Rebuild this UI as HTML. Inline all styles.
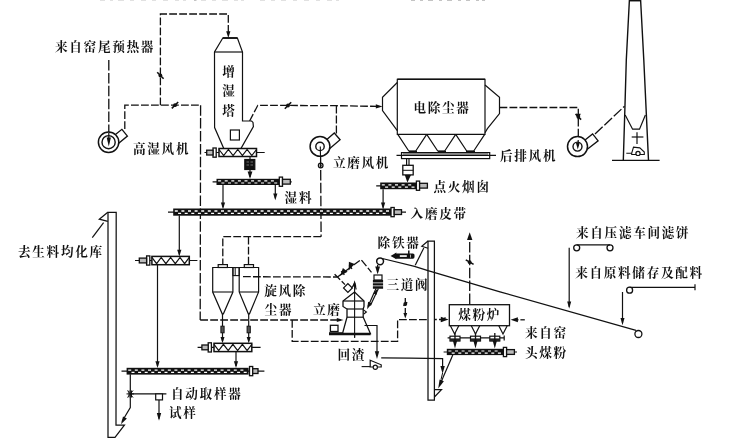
<!DOCTYPE html>
<html lang="zh-CN">
<head>
<meta charset="utf-8">
<title>立磨系统工艺流程图</title>
<style>
html,body{margin:0;padding:0;background:#fff;}
body{width:730px;height:445px;overflow:hidden;}
svg{display:block;will-change:transform;}
.d{stroke-dasharray:7.8 2.2;stroke-width:1.3px;}
.l{stroke-dasharray:10.5 2.4;}
svg text{font-family:"Liberation Serif","Noto Serif CJK SC",serif;font-weight:700;letter-spacing:1.7px;fill:#111;stroke:none;}
</style>
</head>
<body>
<svg width="730" height="445" viewBox="0 0 730 445">
<rect width="730" height="445" fill="#fff" stroke="none"/>
<g stroke="#111" fill="none">
<path d="M100,0h5M110,0h3M118,0h6M130,0h4M141,0h5M152,0h4M163,0h5M175,0h4M183,0h3M201,0h5M212,0h4M222,0h6M234,0h4M241,0h3M260,0h5M271,0h4M281,0h5M293,0h4M304,0h5M316,0h4M327,0h5M336,0h3" stroke-width="1" stroke="#c4c4c4"/>
<path d="M194,0h2.5M411,0h4M420,0h3M428,0h5M439,0h3M447,0h5M458,0h3M466,0h4M476,0h3M482,0h3" stroke-width="1.2" stroke="#8a8a8a"/>
<line x1="108.8" y1="60" x2="108.8" y2="137" stroke-width="1.2" class="d l"/>
<polyline points="124.8,129 124.8,105.2 200.6,105.2" fill="none" stroke-width="1.2" class="d"/>
<line x1="200.6" y1="105.2" x2="200.2" y2="320" stroke-width="1.2" class="d l"/>
<line x1="200.2" y1="320" x2="341" y2="320" stroke-width="1.2" class="d"/>
<polygon points="343.5,320.0 336.8,322.1 336.8,317.9" fill="#111" stroke="none"/>
<polyline points="160.4,105.2 160.4,14 228.3,14 228.3,33" fill="none" stroke-width="1.2" class="d"/>
<polygon points="228.3,38.0 226.2,31.3 230.4,31.3" fill="#111" stroke="none"/>
<line x1="163.6" y1="78.7" x2="157.2" y2="72.3" stroke-width="1.6"/>
<circle cx="160.4" cy="75.5" r="1.9" fill="#111" stroke-width="0"/>
<line x1="171.8" y1="108.4" x2="178.2" y2="102.0" stroke-width="1.6"/>
<circle cx="175" cy="105.2" r="1.9" fill="#111" stroke-width="0"/>
<polyline points="249.6,121 257.8,105.3 336,105.7 378,106.4" fill="none" stroke-width="1.2" class="d"/>
<polygon points="382.5,106.4 375.8,108.5 375.8,104.3" fill="#111" stroke="none"/>
<line x1="284.8" y1="108.7" x2="291.2" y2="102.3" stroke-width="1.6"/>
<circle cx="288" cy="105.5" r="1.9" fill="#111" stroke-width="0"/>
<line x1="336.4" y1="105.6" x2="336.4" y2="133.5" stroke-width="1.2" class="d"/>
<line x1="320.6" y1="157" x2="321.1" y2="236.7" stroke-width="1.2" class="d l"/>
<polyline points="321.1,236.7 222.8,236.7 222.8,265" fill="none" stroke-width="1.2" class="d"/>
<line x1="248.5" y1="236.7" x2="248.5" y2="265" stroke-width="1.2" class="d"/>
<polyline points="499.5,107.5 578.3,107.5 578.3,140" fill="none" stroke-width="1.2" class="d"/>
<line x1="581.1" y1="119.6" x2="575.5" y2="114.0" stroke-width="1.6"/>
<circle cx="578.3" cy="116.8" r="1.9" fill="#111" stroke-width="0"/>
<polygon points="578.3,120.5 575.9,113.8 580.7,113.8" fill="#111" stroke="none"/>
<line x1="595" y1="134" x2="624.5" y2="106.2" stroke-width="1.2" class="d l"/>
<polyline points="337.5,277 361,259.6 371.5,272.3" fill="none" stroke-width="1.2" class="d"/>
<polyline points="334.6,274.2 337.5,277 345,284.6" fill="none" stroke-width="1.2" class="d"/>
<polygon points="340.2,275.8 342.9,267.9 347.6,271.7" fill="#111" stroke="none"/>
<polygon points="348.6,270.6 348.9,261.7 354.6,263.9" fill="#111" stroke="none"/>
<line x1="341.2" y1="271.2" x2="344.4" y2="274.8" stroke-width="1.3"/>
<line x1="349.2" y1="265" x2="352" y2="269" stroke-width="1.3"/>
<polyline points="292.2,320 292.2,341.4 397.6,341.4 397.6,319.6 442,319.5" fill="none" stroke-width="1.2" class="d"/>
<polygon points="448.6,319.5 440.8,322.2 440.8,316.8" fill="#111" stroke="none"/>
<line x1="441" y1="321.5" x2="445.5" y2="317.5" stroke-width="1.4"/>
<line x1="405.3" y1="298" x2="405.3" y2="314" stroke-width="1.2" class="d"/>
<polygon points="405.3,318.5 403.4,312.9 407.2,312.9" fill="#111" stroke="none"/>
<line x1="403.5" y1="305.8" x2="407.1" y2="302.2" stroke-width="1.6"/>
<circle cx="405.3" cy="304" r="1.9" fill="#111" stroke-width="0"/>
<line x1="469.7" y1="304" x2="469.7" y2="238" stroke-width="1.2" class="d l"/>
<polygon points="469.7,232.3 472.4,240.1 467.0,240.1" fill="#111" stroke="none"/>
<line x1="473.6" y1="264.4" x2="465.8" y2="259.9" stroke-width="1.6"/>
<circle cx="469.7" cy="262.2" r="1.9" fill="#111" stroke-width="0"/>
<line x1="518.5" y1="319.8" x2="516" y2="319.8" stroke-width="1.3"/>
<line x1="524.8" y1="319.8" x2="520.4" y2="319.8" stroke-width="1.3"/>
<polygon points="510.6,319.8 517.9,317.3 517.9,322.3" fill="#111" stroke="none"/>
<polygon points="222.8,38 237.4,38 242.5,52 242.5,121 251.6,121 253,122.4 253.4,126.6 240.9,148.6 223.8,148.6 214.6,127.6 214.5,52" fill="#fff" stroke-width="1.2"/>
<line x1="222.8" y1="38" x2="237.4" y2="38" stroke-width="1.8"/>
<line x1="214.5" y1="52" x2="242.5" y2="52" stroke-width="1.2"/>
<rect x="230.4" y="130" width="9" height="10" fill="none" stroke-width="1.2"/>
<line x1="204.5" y1="152.5" x2="264.7" y2="152.5" stroke-width="1.2"/>
<rect x="219" y="148.5" width="37.5" height="8.0" fill="#fff" stroke-width="1.5"/>
<polyline points="219.0,149.5 223.7,155.5 228.4,149.5 233.1,155.5 237.8,149.5 242.4,155.5 247.1,149.5 251.8,155.5 256.5,149.5" fill="none" stroke-width="1.2"/>
<rect x="213.0" y="148.0" width="3.2" height="9.2" fill="#fff" stroke-width="1.3"/>
<rect x="206.7" y="150.2" width="6.3" height="4.8" fill="#bbb" stroke-width="1.3"/>
<rect x="244.8" y="159.5" width="10" height="10" fill="#111" stroke-width="1.2"/>
<path d="M246.5,162h2.5M250.5,162h2.5M246.5,165h2.5M250.5,165h2.5" stroke="#888" stroke-width="0.8"/>
<line x1="250" y1="156.5" x2="250" y2="159.5" stroke-width="1.2"/>
<line x1="250" y1="169.5" x2="250" y2="177" stroke-width="1.2"/>
<polygon points="250.0,179.0 247.6,171.6 252.4,171.6" fill="#111" stroke="none"/>
<line x1="212.6" y1="181.9" x2="291.7" y2="181.9" stroke-width="1.2"/>
<rect x="216.5" y="178.8" width="62.6" height="6.2" fill="#111" stroke="none"/>
<path d="M218.1,180.35h3v1.18h-3zM221.4,182.40h3v1.18h-3zM224.7,180.35h3v1.18h-3zM228.0,182.40h3v1.18h-3zM231.3,180.35h3v1.18h-3zM234.6,182.40h3v1.18h-3zM237.9,180.35h3v1.18h-3zM241.2,182.40h3v1.18h-3zM244.5,180.35h3v1.18h-3zM247.8,182.40h3v1.18h-3zM251.1,180.35h3v1.18h-3zM254.4,182.40h3v1.18h-3zM257.7,180.35h3v1.18h-3zM261.0,182.40h3v1.18h-3zM264.3,180.35h3v1.18h-3zM267.6,182.40h3v1.18h-3zM270.9,180.35h3v1.18h-3zM274.2,182.40h3v1.18h-3z" fill="#fff" stroke="none"/>
<rect x="279.3" y="177.1" width="3.2" height="9.2" fill="#fff" stroke-width="1.3"/>
<rect x="282.5" y="179.3" width="7.8" height="4.8" fill="#bbb" stroke-width="1.3"/>
<line x1="223" y1="185" x2="223" y2="207.2" stroke-width="1.2"/>
<polygon points="223.0,209.2 220.9,202.5 225.1,202.5" fill="#111" stroke="none"/>
<line x1="275.3" y1="185" x2="275.3" y2="198.3" stroke-width="1.2"/>
<polygon points="275.3,200.3 273.2,193.6 277.4,193.6" fill="#111" stroke="none"/>
<line x1="168" y1="212.1" x2="406" y2="212.1" stroke-width="1.2"/>
<rect x="173.2" y="208.5" width="217.8" height="7.2" fill="#111" stroke="none"/>
<path d="M174.8,210.30h3v1.37h-3zM178.1,212.68h3v1.37h-3zM181.4,210.30h3v1.37h-3zM184.7,212.68h3v1.37h-3zM188.0,210.30h3v1.37h-3zM191.3,212.68h3v1.37h-3zM194.6,210.30h3v1.37h-3zM197.9,212.68h3v1.37h-3zM201.2,210.30h3v1.37h-3zM204.5,212.68h3v1.37h-3zM207.8,210.30h3v1.37h-3zM211.1,212.68h3v1.37h-3zM214.4,210.30h3v1.37h-3zM217.7,212.68h3v1.37h-3zM221.0,210.30h3v1.37h-3zM224.3,212.68h3v1.37h-3zM227.6,210.30h3v1.37h-3zM230.9,212.68h3v1.37h-3zM234.2,210.30h3v1.37h-3zM237.5,212.68h3v1.37h-3zM240.8,210.30h3v1.37h-3zM244.1,212.68h3v1.37h-3zM247.4,210.30h3v1.37h-3zM250.7,212.68h3v1.37h-3zM254.0,210.30h3v1.37h-3zM257.3,212.68h3v1.37h-3zM260.6,210.30h3v1.37h-3zM263.9,212.68h3v1.37h-3zM267.2,210.30h3v1.37h-3zM270.5,212.68h3v1.37h-3zM273.8,210.30h3v1.37h-3zM277.1,212.68h3v1.37h-3zM280.4,210.30h3v1.37h-3zM283.7,212.68h3v1.37h-3zM287.0,210.30h3v1.37h-3zM290.3,212.68h3v1.37h-3zM293.6,210.30h3v1.37h-3zM296.9,212.68h3v1.37h-3zM300.2,210.30h3v1.37h-3zM303.5,212.68h3v1.37h-3zM306.8,210.30h3v1.37h-3zM310.1,212.68h3v1.37h-3zM313.4,210.30h3v1.37h-3zM316.7,212.68h3v1.37h-3zM320.0,210.30h3v1.37h-3zM323.3,212.68h3v1.37h-3zM326.6,210.30h3v1.37h-3zM329.9,212.68h3v1.37h-3zM333.2,210.30h3v1.37h-3zM336.5,212.68h3v1.37h-3zM339.8,210.30h3v1.37h-3zM343.1,212.68h3v1.37h-3zM346.4,210.30h3v1.37h-3zM349.7,212.68h3v1.37h-3zM353.0,210.30h3v1.37h-3zM356.3,212.68h3v1.37h-3zM359.6,210.30h3v1.37h-3zM362.9,212.68h3v1.37h-3zM366.2,210.30h3v1.37h-3zM369.5,212.68h3v1.37h-3zM372.8,210.30h3v1.37h-3zM376.1,212.68h3v1.37h-3zM379.4,210.30h3v1.37h-3zM382.7,212.68h3v1.37h-3zM386.0,210.30h3v1.37h-3z" fill="#fff" stroke="none"/>
<rect x="391" y="207.5" width="3.2" height="9.2" fill="#fff" stroke-width="1.3"/>
<rect x="394.2" y="209.7" width="7.3" height="4.8" fill="#bbb" stroke-width="1.3"/>
<polyline points="112.3,137.0 121.9,129.3 127.4,136.1 117.8,143.9" fill="#fff" stroke-width="1.3"/>
<circle cx="108.6" cy="142.2" r="10.2" fill="#fff" stroke-width="1.5"/>
<circle cx="108.6" cy="142.2" r="6.6" fill="none" stroke-width="1.4"/>
<line x1="108.8" y1="133" x2="108.8" y2="140" stroke-width="1.2"/>
<polygon points="108.8,146.5 106.7,137.5 110.9,137.5" fill="#111" stroke="none"/>
<polyline points="324.0,142.0 334.3,133.0 340.1,139.7 329.8,148.6" fill="#fff" stroke-width="1.3"/>
<circle cx="320" cy="146.4" r="9.9" fill="#fff" stroke-width="1.5"/>
<circle cx="320" cy="146.4" r="4.2" fill="none" stroke-width="1.4"/>
<line x1="320.3" y1="146.4" x2="320.5" y2="156" stroke-width="1.1"/>
<circle cx="320.7" cy="165.5" r="2.3" fill="none" stroke-width="1.3"/>
<circle cx="320.7" cy="165.5" r="1" fill="#111" stroke-width="0"/>
<polyline points="581.9,142.4 592.6,133.9 598.1,140.8 587.3,149.3" fill="#fff" stroke-width="1.3"/>
<circle cx="577.5" cy="146.6" r="10" fill="#fff" stroke-width="1.5"/>
<circle cx="577.5" cy="146.6" r="4.5" fill="none" stroke-width="1.4"/>
<line x1="578.2" y1="140" x2="578.2" y2="146" stroke-width="1.2"/>
<polygon points="577.8,149.5 575.9,142.8 579.7,142.8" fill="#111" stroke="none"/>
<polygon points="397.3,79.3 485,79.3 485,134.4 397.3,134.4" fill="#fff" stroke-width="1.2"/>
<line x1="397.3" y1="79.3" x2="485" y2="79.3" stroke-width="1.6"/>
<polyline points="397.3,82.5 382.5,97.3 382.5,110.5 397.3,130.7" fill="none" stroke-width="1.2"/>
<polyline points="485,85 499.5,97.3 499.5,113.5 487.4,128.7 485,132.7" fill="none" stroke-width="1.2"/>
<polyline points="397.8,134.4 408.75,151 415.75,151 426.7,134.4" fill="none" stroke-width="1.2"/>
<polyline points="426.7,134.4 437.7,151 444.7,151 455.7,134.4" fill="none" stroke-width="1.2"/>
<polyline points="455.7,134.4 466.7,151 473.7,151 484.7,134.4" fill="none" stroke-width="1.2"/>
<line x1="396.5" y1="155.4" x2="496" y2="155.4" stroke-width="1.2"/>
<rect x="401.5" y="152.6" width="88.2" height="6" fill="none" stroke-width="1.2"/>
<line x1="403" y1="154" x2="488" y2="154" stroke-width="0.8"/>
<path d="M409,151.6h8M438,151.6h8M466,151.6h9" stroke-width="1.6"/>
<line x1="409" y1="158.6" x2="409" y2="165.3" stroke-width="1.2"/>
<line x1="406.6" y1="158.6" x2="406.6" y2="165.3" stroke-width="1.2"/>
<rect x="402.8" y="165.3" width="10.4" height="9.6" fill="#fff" stroke-width="1.3"/>
<line x1="402.8" y1="170.3" x2="413.2" y2="170.3" stroke-width="1"/>
<polygon points="404.8,175 411,175 407.4,182.6" fill="#111" stroke="none"/>
<line x1="376.2" y1="185.8" x2="416" y2="185.8" stroke-width="1.2"/>
<rect x="380.2" y="182.5" width="36.2" height="6.7" fill="#111" stroke="none"/>
<path d="M381.8,184.18h3v1.27h-3zM385.1,186.39h3v1.27h-3zM388.4,184.18h3v1.27h-3zM391.7,186.39h3v1.27h-3zM395.0,184.18h3v1.27h-3zM398.3,186.39h3v1.27h-3zM401.6,184.18h3v1.27h-3zM404.9,186.39h3v1.27h-3zM408.2,184.18h3v1.27h-3zM411.5,186.39h3v1.27h-3z" fill="#fff" stroke="none"/>
<rect x="416.4" y="181.1" width="3.2" height="9.2" fill="#fff" stroke-width="1.3"/>
<rect x="419.6" y="183.3" width="7.8" height="4.8" fill="#bbb" stroke-width="1.3"/>
<line x1="383.1" y1="189.2" x2="383.1" y2="207.4" stroke-width="1.2"/>
<polygon points="383.1,209.4 381.0,202.5 385.2,202.5" fill="#111" stroke="none"/>
<polyline points="629.4,0 626.3,60 625,105 623.3,160.4" fill="none" stroke-width="1.4"/>
<polyline points="640.6,0 643.8,60 648.5,160.4" fill="none" stroke-width="1.4"/>
<line x1="629.4" y1="0.7" x2="640.6" y2="0.7" stroke-width="1.5"/>
<line x1="612" y1="160.4" x2="659.6" y2="160.4" stroke-width="1.4"/>
<polyline points="625.2,115 632.6,129.2 639.5,129.2 645.4,115" fill="none" stroke-width="1.2"/>
<line x1="637" y1="132.2" x2="637" y2="143.9" stroke-width="1.2"/>
<line x1="631.7" y1="137" x2="643.4" y2="137" stroke-width="1.2"/>
<polyline points="626.3,153.2 631.7,153.2 633.5,147.2 639.8,147.9 644.3,152 644.3,154.5 631.7,154.5 631.7,153.2" fill="none" stroke-width="1.1"/>
<circle cx="638" cy="153.4" r="2.1" fill="#fff" stroke-width="1.2"/>
<polygon points="108,212.3 116.2,212.3 116,425.2 124.4,425.2 115,437.3 108,437.3" fill="#fff" stroke-width="1.25"/>
<polyline points="107.8,212.3 99.3,219.2 107.8,221.4" fill="none" stroke-width="1.2"/>
<line x1="103.6" y1="222.7" x2="92.3" y2="237.6" stroke-width="1.2"/>
<line x1="135" y1="260.5" x2="197.4" y2="260.5" stroke-width="1.2"/>
<rect x="151.9" y="256.4" width="37.4" height="8.3" fill="#fff" stroke-width="1.5"/>
<polyline points="151.9,257.4 156.6,263.7 161.2,257.4 165.9,263.7 170.6,257.4 175.3,263.7 180.0,257.4 184.6,263.7 189.3,257.4" fill="none" stroke-width="1.2"/>
<rect x="146.6" y="255.9" width="3.2" height="9.2" fill="#fff" stroke-width="1.3"/>
<rect x="139.3" y="258.1" width="7.3" height="4.8" fill="#bbb" stroke-width="1.3"/>
<line x1="179.3" y1="215.3" x2="179.3" y2="254.39999999999998" stroke-width="1.2"/>
<polygon points="179.3,256.4 177.2,249.7 181.4,249.7" fill="#111" stroke="none"/>
<line x1="157.5" y1="264.7" x2="157.5" y2="366" stroke-width="1.2"/>
<polygon points="157.5,368.0 155.4,361.3 159.6,361.3" fill="#111" stroke="none"/>
<polygon points="212.7,267.5 232.9,267.5 232.9,292 223.4,313.8 222.20000000000002,313.8 212.7,292" fill="#fff" stroke-width="1.2"/>
<line x1="212.7" y1="292" x2="232.9" y2="292" stroke-width="1.1"/>
<rect x="218.2" y="264.6" width="9.2" height="2.9" fill="#fff" stroke-width="1.2"/>
<polygon points="239.2,267.5 258.6,267.5 258.6,292 249.5,313.8 248.3,313.8 239.2,292" fill="#fff" stroke-width="1.2"/>
<line x1="239.2" y1="292" x2="258.6" y2="292" stroke-width="1.1"/>
<rect x="244.3" y="264.6" width="9.2" height="2.9" fill="#fff" stroke-width="1.2"/>
<rect x="232.9" y="267.6" width="6.3" height="8" fill="none" stroke-width="1.1"/>
<line x1="235.2" y1="267.6" x2="235.2" y2="275.6" stroke-width="1"/>
<line x1="222.5" y1="313.8" x2="222.5" y2="326" stroke-width="1.2"/>
<rect x="220.9" y="326.2" width="3.2" height="6.6" fill="#555" stroke-width="1"/>
<line x1="222.5" y1="332.8" x2="222.5" y2="341.3" stroke-width="1.2"/>
<polygon points="222.5,343.3 220.5,337.1 224.5,337.1" fill="#111" stroke="none"/>
<line x1="248.7" y1="313.8" x2="248.7" y2="326" stroke-width="1.2"/>
<rect x="247.1" y="326.2" width="3.2" height="6.6" fill="#555" stroke-width="1"/>
<line x1="248.7" y1="332.8" x2="248.7" y2="341.3" stroke-width="1.2"/>
<polygon points="248.7,343.3 246.7,337.1 250.7,337.1" fill="#111" stroke="none"/>
<polyline points="243,276.7 337.5,277" fill="none" stroke-width="1.2" class="d"/>
<line x1="197.6" y1="347.4" x2="260.6" y2="347.4" stroke-width="1.2"/>
<rect x="214" y="343.3" width="37.8" height="8.3" fill="#fff" stroke-width="1.5"/>
<polyline points="214.0,344.3 218.7,350.6 223.4,344.3 228.2,350.6 232.9,344.3 237.6,350.6 242.4,344.3 247.1,350.6 251.8,344.3" fill="none" stroke-width="1.2"/>
<rect x="208.2" y="342.8" width="3.2" height="9.2" fill="#fff" stroke-width="1.3"/>
<rect x="201.9" y="345.0" width="6.3" height="4.8" fill="#bbb" stroke-width="1.3"/>
<line x1="236" y1="351.6" x2="236" y2="366" stroke-width="1.2"/>
<polygon points="236.0,368.0 233.9,361.3 238.1,361.3" fill="#111" stroke="none"/>
<line x1="121.5" y1="371.1" x2="264.4" y2="371.1" stroke-width="1.2"/>
<rect x="126.6" y="367.8" width="122.0" height="6.8" fill="#111" stroke="none"/>
<path d="M128.2,369.50h3v1.29h-3zM131.5,371.74h3v1.29h-3zM134.8,369.50h3v1.29h-3zM138.1,371.74h3v1.29h-3zM141.4,369.50h3v1.29h-3zM144.7,371.74h3v1.29h-3zM148.0,369.50h3v1.29h-3zM151.3,371.74h3v1.29h-3zM154.6,369.50h3v1.29h-3zM157.9,371.74h3v1.29h-3zM161.2,369.50h3v1.29h-3zM164.5,371.74h3v1.29h-3zM167.8,369.50h3v1.29h-3zM171.1,371.74h3v1.29h-3zM174.4,369.50h3v1.29h-3zM177.7,371.74h3v1.29h-3zM181.0,369.50h3v1.29h-3zM184.3,371.74h3v1.29h-3zM187.6,369.50h3v1.29h-3zM190.9,371.74h3v1.29h-3zM194.2,369.50h3v1.29h-3zM197.5,371.74h3v1.29h-3zM200.8,369.50h3v1.29h-3zM204.1,371.74h3v1.29h-3zM207.4,369.50h3v1.29h-3zM210.7,371.74h3v1.29h-3zM214.0,369.50h3v1.29h-3zM217.3,371.74h3v1.29h-3zM220.6,369.50h3v1.29h-3zM223.9,371.74h3v1.29h-3zM227.2,369.50h3v1.29h-3zM230.5,371.74h3v1.29h-3zM233.8,369.50h3v1.29h-3zM237.1,371.74h3v1.29h-3zM240.4,369.50h3v1.29h-3zM243.7,371.74h3v1.29h-3z" fill="#fff" stroke="none"/>
<rect x="249.5" y="366.5" width="3.2" height="9.2" fill="#fff" stroke-width="1.3"/>
<rect x="252.7" y="368.7" width="5.3" height="4.8" fill="#bbb" stroke-width="1.3"/>
<polyline points="130.3,374.3 130.3,407.6 122,421.5" fill="none" stroke-width="1.2"/>
<polygon points="121.0,424.3 123.0,416.4 126.9,418.6" fill="#111" stroke="none"/>
<path d="M126.5,393.9h7.5M127.5,390.5l5.5,7M133,390.5l-5.5,7M129,390.5v7M131.5,390.5v7" stroke-width="1"/>
<line x1="130.3" y1="393.9" x2="166.4" y2="393.9" stroke-width="1.2"/>
<rect x="155.7" y="393.9" width="6.8" height="6" fill="#fff" stroke-width="1.2"/>
<line x1="159" y1="400" x2="159" y2="418.8" stroke-width="1.2"/>
<polygon points="159.0,420.8 156.8,413.0 161.2,413.0" fill="#111" stroke="none"/>
<line x1="354.6" y1="283" x2="354.6" y2="337.8" stroke-width="1.1"/>
<polygon points="354.6,292 343,301 343,306.5 347,309 347,317.2 342.5,333.5 370.4,333.5 363.2,317.2 363.2,309 364,306.5 364,301" fill="#fff" stroke-width="1.3"/>
<line x1="354.6" y1="292" x2="354.6" y2="337.8" stroke-width="1.1"/>
<line x1="343" y1="301" x2="364" y2="301" stroke-width="1.2"/>
<line x1="347" y1="309" x2="363.2" y2="309" stroke-width="1.2"/>
<line x1="347" y1="317.2" x2="363.2" y2="317.2" stroke-width="1.2"/>
<polyline points="363.2,309.6 366.4,312 363.8,314" fill="none" stroke-width="1.1"/>
<line x1="329" y1="334.2" x2="370.6" y2="334.2" stroke-width="2.2"/>
<rect x="330.4" y="325.3" width="7.6" height="6.2" fill="#fff" stroke-width="1.3"/>
<line x1="329" y1="333" x2="342.5" y2="333" stroke-width="1.6"/>
<rect x="-3.1" y="-3.1" width="6.2" height="6.2" fill="#fff" stroke-width="1.2" transform="translate(347.9,288) rotate(45)"/>
<polyline points="351.6,288.2 354.6,283 356.2,289.5" fill="none" stroke-width="1.1"/>
<polygon points="354.6,280.3 356.4,286.5 352.8,286.5" fill="#111" stroke="none"/>
<line x1="376" y1="288.5" x2="368" y2="306.5" stroke-width="1.2"/>
<line x1="378.4" y1="288.5" x2="370.4" y2="305.5" stroke-width="1.2"/>
<polygon points="367.1,309.2 368.1,301.7 372.0,303.4" fill="#111" stroke="none"/>
<polygon points="377.2,289.0 376.6,294.8 373.3,293.4" fill="#111" stroke="none"/>
<polyline points="364.5,325.5 377,325.5 377,353" fill="none" stroke-width="1.2"/>
<polygon points="377.0,359.0 374.8,351.2 379.2,351.2" fill="#111" stroke="none"/>
<polygon points="370.2,360.2 381.2,364.8 381.2,367 370.2,367" fill="none" stroke-width="1.2"/>
<line x1="361.6" y1="366.6" x2="370.2" y2="366.6" stroke-width="1.1"/>
<circle cx="375.3" cy="367.2" r="2.1" fill="#fff" stroke-width="1.2"/>
<circle cx="380.1" cy="261.3" r="3.4" fill="#fff" stroke-width="1.5"/>
<circle cx="638.4" cy="334" r="3.5" fill="#fff" stroke-width="1.3"/>
<line x1="377.6" y1="265" x2="377.6" y2="272.2" stroke-width="1.2"/>
<polygon points="377.6,274.2 375.2,266.4 380.0,266.4" fill="#111" stroke="none"/>
<rect x="374" y="275" width="8" height="5" fill="#fff" stroke-width="1.2"/>
<path d="M372.9,281.2h10.2M372.9,284.4h10.2M372.9,287.5h10.2" stroke-width="2.4"/>
<polygon points="390.6,255.9 396.4,252.5 396.4,259.3" fill="#111" stroke="none"/>
<rect x="395" y="253.5" width="19.5" height="5.2" rx="1.6" fill="#111" stroke="none"/>
<rect x="399.8" y="255.2" width="7" height="1.7" fill="#fff" stroke="none"/>
<path d="M410.5,254.6v3M408.6,250.8v3" stroke="#ddd" stroke-width="0.8"/>
<line x1="408.8" y1="250.6" x2="408.8" y2="254" stroke-width="1.5"/>
<polygon points="428,241 434.4,241 434.4,400 428,400" fill="#fff" stroke-width="1.25"/>
<polyline points="428,241 421.8,246.3 428,248.2" fill="none" stroke-width="1.2"/>
<line x1="423.8" y1="248" x2="415.2" y2="265.2" stroke-width="1.2"/>
<polyline points="434.4,397 441.5,389.6 434.4,389.6" fill="none" stroke-width="1.2"/>
<polyline points="381.2,357.8 410,358.2 442.6,358.6 442.6,368" fill="none" stroke-width="1.2"/>
<polygon points="442.6,373.8 440.4,366.0 444.8,366.0" fill="#111" stroke="none"/>
<polyline points="442.6,373 441,379.5" fill="none" stroke-width="1"/>
<polyline points="382.3,258.5 414.5,266.3 428,270.7 500,291.8 636,330.3" fill="none" stroke-width="1.25"/>
<rect x="449.3" y="304.7" width="60.2" height="21" fill="#fff" stroke-width="1.3"/>
<polyline points="450.40000000000003,325.7 454.6,334 458.8,325.7" fill="none" stroke-width="1.2"/>
<polyline points="471.3,325.7 475.5,334 479.7,325.7" fill="none" stroke-width="1.2"/>
<polyline points="498.8,325.7 503,334 507.2,325.7" fill="none" stroke-width="1.2"/>
<line x1="447.6" y1="337.9" x2="504.2" y2="337.9" stroke-width="1.3"/>
<line x1="504.2" y1="335.4" x2="504.2" y2="340.6" stroke-width="1.2"/>
<rect x="450" y="336.2" width="10" height="4.8" fill="#fff" stroke-width="1.2"/>
<rect x="450" y="338.4" width="10" height="2.8" fill="#222" stroke="none"/>
<line x1="455" y1="333" x2="455" y2="343" stroke-width="1.3"/>
<polygon points="455.0,348.6 452.9,340.8 457.1,340.8" fill="#111" stroke="none"/>
<rect x="470.5" y="336.2" width="10" height="4.8" fill="#fff" stroke-width="1.2"/>
<rect x="470.5" y="338.4" width="10" height="2.8" fill="#222" stroke="none"/>
<line x1="475.5" y1="333" x2="475.5" y2="343" stroke-width="1.3"/>
<polygon points="475.5,348.6 473.4,340.8 477.6,340.8" fill="#111" stroke="none"/>
<rect x="489.8" y="336.2" width="10" height="4.8" fill="#fff" stroke-width="1.2"/>
<rect x="489.8" y="338.4" width="10" height="2.8" fill="#222" stroke="none"/>
<line x1="494.8" y1="333" x2="494.8" y2="343" stroke-width="1.3"/>
<polygon points="494.8,348.6 492.7,340.8 496.9,340.8" fill="#111" stroke="none"/>
<line x1="443.6" y1="352" x2="517" y2="352" stroke-width="1.2"/>
<rect x="446.8" y="348.8" width="56.6" height="6.3" fill="#111" stroke="none"/>
<path d="M448.4,350.38h3v1.20h-3zM451.7,352.45h3v1.20h-3zM455.0,350.38h3v1.20h-3zM458.3,352.45h3v1.20h-3zM461.6,350.38h3v1.20h-3zM464.9,352.45h3v1.20h-3zM468.2,350.38h3v1.20h-3zM471.5,352.45h3v1.20h-3zM474.8,350.38h3v1.20h-3zM478.1,352.45h3v1.20h-3zM481.4,350.38h3v1.20h-3zM484.7,352.45h3v1.20h-3zM488.0,350.38h3v1.20h-3zM491.3,352.45h3v1.20h-3zM494.6,350.38h3v1.20h-3zM497.9,352.45h3v1.20h-3z" fill="#fff" stroke="none"/>
<rect x="503.4" y="347.4" width="3.2" height="9.2" fill="#fff" stroke-width="1.3"/>
<rect x="506.6" y="349.6" width="7.8" height="4.8" fill="#bbb" stroke-width="1.3"/>
<line x1="452.8" y1="355.1" x2="440" y2="384.5" stroke-width="1.2"/>
<polygon points="438.2,388.6 439.6,379.4 443.9,381.3" fill="#111" stroke="none"/>
<circle cx="576.7" cy="247.8" r="3" fill="none" stroke-width="1.3"/>
<circle cx="610" cy="247.8" r="3" fill="none" stroke-width="1.3"/>
<line x1="576.7" y1="244.8" x2="610" y2="244.8" stroke-width="1.3"/>
<line x1="569.2" y1="247.8" x2="569.2" y2="306.8" stroke-width="1.2"/>
<polygon points="569.2,308.8 567.2,301.5 571.2,301.5" fill="#111" stroke="none"/>
<circle cx="629.6" cy="290.2" r="3" fill="none" stroke-width="1.3"/>
<line x1="629.6" y1="287.3" x2="695" y2="287.3" stroke-width="1.3"/>
<line x1="695" y1="284.2" x2="695" y2="290.2" stroke-width="1.2"/>
<line x1="622.5" y1="292" x2="622.5" y2="323.3" stroke-width="1.2"/>
<polygon points="622.5,325.3 620.5,318.0 624.5,318.0" fill="#111" stroke="none"/>
<text x="55.0" y="51.0" font-size="12.6">来自窑尾预热器</text>
<text x="222.3" y="75.5" font-size="12.6">增</text>
<text x="222.3" y="94.5" font-size="12.6">湿</text>
<text x="222.3" y="115.2" font-size="12.6">塔</text>
<text x="133.0" y="152.5" font-size="12.6">高湿风机</text>
<text x="332.9" y="167.3" font-size="12.6">立磨风机</text>
<text x="413.4" y="112.2" font-size="12.6">电除尘器</text>
<text x="500.0" y="160.0" font-size="12.6">后排风机</text>
<text x="433.5" y="190.6" font-size="12.6">点火烟囱</text>
<text x="284.6" y="201.6" font-size="12.6">湿料</text>
<text x="410.6" y="218.0" font-size="12.6">入磨皮带</text>
<text x="18" y="256.0" font-size="12.6">去生料均化库</text>
<text x="377.6" y="246.5" font-size="12.6">除铁器</text>
<text x="386.4" y="288.5" font-size="12.6">三道阀</text>
<text x="264.2" y="294.8" font-size="12.6">旋风除</text>
<text x="264.6" y="313.8" font-size="12.6">尘器</text>
<text x="313" y="313.6" font-size="12.6">立磨</text>
<text x="337.5" y="359.2" font-size="12.6">回渣</text>
<text x="458.2" y="318.5" font-size="12.6">煤粉炉</text>
<text x="525.0" y="336.5" font-size="12.6">来自窑</text>
<text x="525.0" y="356.5" font-size="12.6">头煤粉</text>
<text x="576.0" y="237.0" font-size="12.6">来自压滤车间滤饼</text>
<text x="575.2" y="277.0" font-size="12.6">来自原料储存及配料</text>
<text x="171" y="398.0" font-size="12.6">自动取样器</text>
<text x="169" y="416.8" font-size="12.6">试样</text>
</g>
</svg>
</body>
</html>
